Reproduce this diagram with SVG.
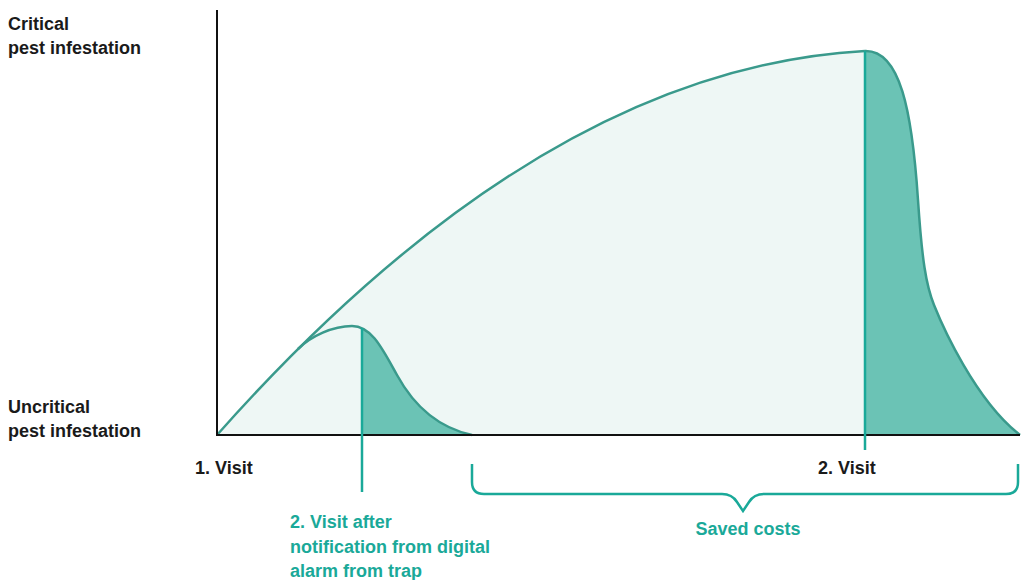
<svg xmlns="http://www.w3.org/2000/svg" width="1022" height="580" viewBox="0 0 1022 580">
<style>
.lbl{font-family:"Liberation Sans",Arial,sans-serif;font-weight:700;font-size:18px;fill:#1a1a1a}
.tl{fill:#1aa999}
.curve{fill:none;stroke:#3a9a8c;stroke-width:2.5;stroke-linejoin:round}
.mark{fill:none;stroke:#1aa999;stroke-width:2.5}
.axis{fill:none;stroke:#111;stroke-width:2}
.light{fill:#eef7f5}
.dark{fill:#6bc3b5}
</style>
<defs>
<clipPath id="rightOf362"><rect x="362" y="0" width="200" height="436"/></clipPath>
</defs>
<g id="areas">
<path class="light" d="M217,435 C390,240 610,65 865,51 L865,435 Z"/>
<path class="dark" d="M865,51 C900,50 912,110 918,200 C922,260 926,285 934,305 C942,325 975,400 1020,435 L865,435 Z"/>
<path class="dark" clip-path="url(#rightOf362)" d="M298,349 C311,336 333,326 352,326 C372,326 383,350 397,375 C415,408 440,428 472,435 L298,435 Z"/>
</g>
<g id="curves">
<path class="curve" d="M217,435 C390,240 610,65 865,51"/>
<path class="curve" d="M865,51 C900,50 912,110 918,200 C922,260 926,285 934,305 C942,325 975,400 1020,435"/>
<path class="curve" d="M298,349 C311,336 333,326 352,326 C372,326 383,350 397,375 C415,408 440,428 472,435"/>
</g>
<g id="axes">
<path class="axis" d="M217,10 L217,435 L1020,435"/>
</g>
<g id="markers">
<line class="mark" x1="362" y1="328" x2="362" y2="492"/>
<line class="mark" x1="865" y1="51" x2="865" y2="450"/>
</g>
<g id="brace">
<path class="mark" d="M472,464 L472,482 Q472,494 484,494 L722,494 Q732,494 737,502 L743,511 L749,502 Q754,494 764,494 L1006,494 Q1018,494 1018,482 L1018,464"/>
</g>
<g id="y-labels">
<text class="lbl" x="8" y="30">Critical</text>
<text class="lbl" x="8" y="54">pest infestation</text>
<text class="lbl" x="8" y="413">Uncritical</text>
<text class="lbl" x="8" y="437">pest infestation</text>
</g>
<g id="x-labels">
<text class="lbl" x="195" y="474">1. Visit</text>
<text class="lbl" x="818" y="474">2. Visit</text>
<text class="lbl tl" x="290" y="528">2. Visit after</text>
<text class="lbl tl" x="290" y="553">notification from digital</text>
<text class="lbl tl" x="290" y="577">alarm from trap</text>
<text class="lbl tl" x="748" y="535" text-anchor="middle">Saved costs</text>
</g>
</svg>
